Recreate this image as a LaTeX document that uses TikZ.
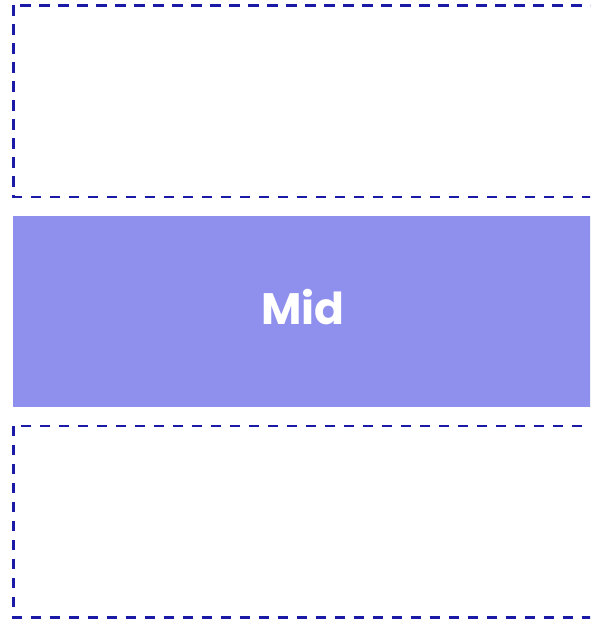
\documentclass[tikz,border=0pt]{standalone}
\usepackage{fontspec}
\newfontfamily\labelfont{Poppins}
\definecolor{slotblue}{HTML}{1A1AA6}
\definecolor{midfill}{HTML}{8F8FEE}
\begin{document}
\begin{tikzpicture}[x=1pt,y=-1pt,
  slot/.style={draw=slotblue,line width=2.4pt,dash pattern=on 10.5pt off 8.5pt},
  band/.style={fill=midfill}]
  \useasboundingbox (0,0) rectangle (590,620);
  \clip (0,0) rectangle (590,620);
  \draw[slot] (13.3,5.5) rectangle (600,197) coordinate (topend);
  \fill[band] (13,216) rectangle (593,407) coordinate (midend);
  \draw[slot] (13.3,425.8) rectangle (600,617.5) coordinate (botend);
  \node[anchor=base,text=white,font=\labelfont\bfseries\fontsize{44}{53}\selectfont,inner sep=0pt] (mid) at (303,324) {Mid};
\end{tikzpicture}
\end{document}
